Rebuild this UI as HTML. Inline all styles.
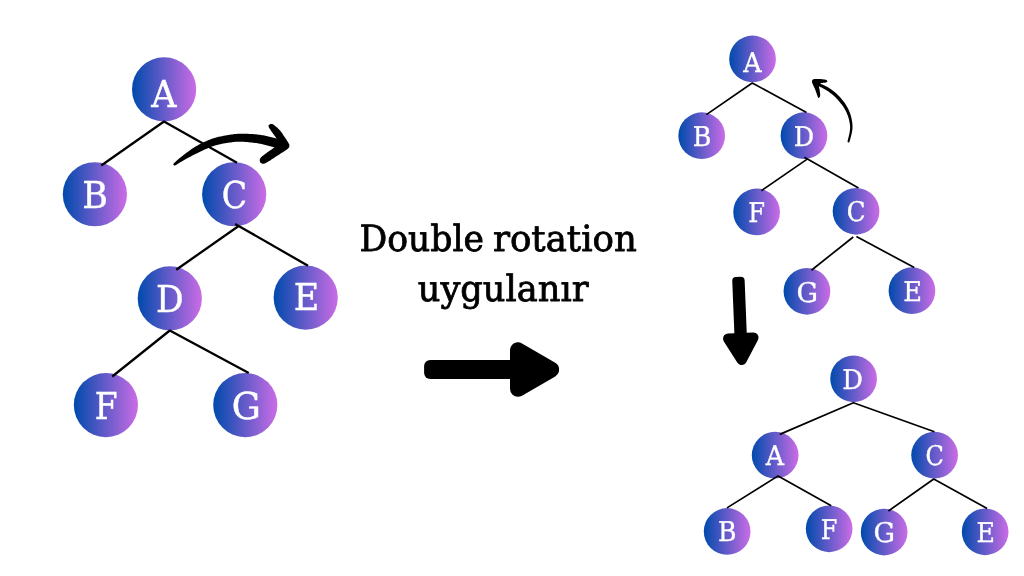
<!DOCTYPE html>
<html lang="tr">
<head>
<meta charset="utf-8">
<title>Double rotation uygulanır</title>
<style>
html,body{margin:0;padding:0;background:#fff;}
body{width:1024px;height:576px;overflow:hidden;position:relative;}
svg{position:absolute;left:0;top:0;display:block;will-change:transform;}
text{font-family:"DejaVu Serif", "Liberation Serif", serif;text-rendering:geometricPrecision;}
.n1{font-size:37.0px;fill:#fff;stroke:#fff;stroke-width:0.42px;}
.n2{font-size:27.1px;fill:#fff;stroke:#fff;stroke-width:0.32px;}
.cap{font-size:36.1px;fill:#000;stroke:#000;stroke-width:0.8px;stroke-linejoin:round;}
</style>
</head>
<body>
<svg width="1024" height="576" viewBox="0 0 1024 576">
<defs>
<linearGradient id="g" x1="0" y1="0" x2="1" y2="0">
<stop offset="0" stop-color="#004aad"/>
<stop offset="1" stop-color="#cb6ce6"/>
</linearGradient>
</defs>
<rect width="1024" height="576" fill="#fff"/>
<!-- left tree -->
<circle cx="164.1" cy="89.4" r="32.1" fill="url(#g)"/>
<circle cx="94.9" cy="194.25" r="32.1" fill="url(#g)"/>
<circle cx="234.2" cy="194.25" r="32.1" fill="url(#g)"/>
<circle cx="169.8" cy="298.4" r="32.1" fill="url(#g)"/>
<circle cx="305.7" cy="297.6" r="32.1" fill="url(#g)"/>
<circle cx="105.9" cy="405.05" r="32.1" fill="url(#g)"/>
<circle cx="245.3" cy="405.05" r="32.1" fill="url(#g)"/>
<polyline points="101.25,165.5 164.0,121.5 237.0,162.75" fill="none" stroke="#000" stroke-width="2.3" stroke-linejoin="bevel"/>
<polyline points="176.25,269.75 238.3,226.2" fill="none" stroke="#000" stroke-width="2.3" stroke-linejoin="bevel"/>
<polyline points="235.1,223.9 308.0,265.75" fill="none" stroke="#000" stroke-width="2.3" stroke-linejoin="bevel"/>
<polyline points="112.25,376.5 169.8,330.5 248.75,373.0" fill="none" stroke="#000" stroke-width="2.3" stroke-linejoin="bevel"/>
<text class="n1" transform="translate(151.30 106.84) scale(0.945 1)">A</text>
<text class="n1" transform="translate(82.27 207.69) scale(0.944 1)">B</text>
<text class="n1" transform="translate(221.83 207.64) scale(0.896 1)">C</text>
<text class="n1" transform="translate(156.04 312.19) scale(0.932 1)">D</text>
<text class="n1" transform="translate(293.67 310.04) scale(0.945 1)">E</text>
<text class="n1" transform="translate(94.77 418.94) scale(0.889 1)">F</text>
<text class="n1" transform="translate(231.66 418.64) scale(0.984 1)">G</text>
<!-- right trees -->
<circle cx="752.55" cy="58.95" r="23.35" fill="url(#g)"/>
<circle cx="701.7" cy="135.7" r="23.35" fill="url(#g)"/>
<circle cx="803.95" cy="135.7" r="23.35" fill="url(#g)"/>
<circle cx="756.6" cy="211.95" r="23.35" fill="url(#g)"/>
<circle cx="856.05" cy="211.3" r="23.35" fill="url(#g)"/>
<circle cx="806.95" cy="291.3" r="23.35" fill="url(#g)"/>
<circle cx="911.95" cy="290.7" r="23.35" fill="url(#g)"/>
<circle cx="853.6" cy="378.8" r="23.35" fill="url(#g)"/>
<circle cx="775.15" cy="455.15" r="23.35" fill="url(#g)"/>
<circle cx="934.6" cy="455.15" r="23.35" fill="url(#g)"/>
<circle cx="727.15" cy="531.45" r="23.35" fill="url(#g)"/>
<circle cx="829.15" cy="528.8" r="23.35" fill="url(#g)"/>
<circle cx="884.15" cy="532.05" r="23.35" fill="url(#g)"/>
<circle cx="985.15" cy="531.8" r="23.35" fill="url(#g)"/>
<polyline points="706.4,114.6 752.25,83.0 806.5,112.5" fill="none" stroke="#000" stroke-width="1.7" stroke-linejoin="bevel"/>
<polyline points="761.4,190.75 807.2,159.1" fill="none" stroke="#000" stroke-width="1.7" stroke-linejoin="bevel"/>
<polyline points="804.4,157.2 858.5,187.9" fill="none" stroke="#000" stroke-width="1.7" stroke-linejoin="bevel"/>
<polyline points="811.4,270.25 853.25,237.0" fill="none" stroke="#000" stroke-width="1.7" stroke-linejoin="bevel"/>
<polyline points="856.4,236.6 914.25,267.5" fill="none" stroke="#000" stroke-width="1.7" stroke-linejoin="bevel"/>
<polyline points="779.75,434.4 853.4,402.75 934.4,431.75" fill="none" stroke="#000" stroke-width="1.7" stroke-linejoin="bevel"/>
<polyline points="727.0,507.9 778.1,475.9 831.25,505.75" fill="none" stroke="#000" stroke-width="1.7" stroke-linejoin="bevel"/>
<polyline points="888.4,511.0 933.75,479.0 987.1,508.5" fill="none" stroke="#000" stroke-width="1.7" stroke-linejoin="bevel"/>
<text class="n2" transform="translate(743.20 71.74) scale(0.940 1)">A</text>
<text class="n2" transform="translate(692.65 145.89) scale(0.936 1)">B</text>
<text class="n2" transform="translate(793.64 145.59) scale(0.940 1)">D</text>
<text class="n2" transform="translate(748.31 222.24) scale(0.894 1)">F</text>
<text class="n2" transform="translate(846.67 220.79) scale(0.905 1)">C</text>
<text class="n2" transform="translate(796.55 301.59) scale(0.994 1)">G</text>
<text class="n2" transform="translate(903.23 300.99) scale(0.949 1)">E</text>
<text class="n2" transform="translate(842.13 388.69) scale(0.953 1)">D</text>
<text class="n2" transform="translate(765.70 465.24) scale(0.935 1)">A</text>
<text class="n2" transform="translate(925.39 464.79) scale(0.888 1)">C</text>
<text class="n2" transform="translate(718.01 541.49) scale(0.928 1)">B</text>
<text class="n2" transform="translate(820.72 538.99) scale(0.885 1)">F</text>
<text class="n2" transform="translate(873.55 541.79) scale(0.994 1)">G</text>
<text class="n2" transform="translate(976.50 541.99) scale(0.934 1)">E</text>
<!-- caption -->
<text class="cap" y="250.5"><tspan x="359.4" textLength="124.6" lengthAdjust="spacingAndGlyphs">Double</tspan> <tspan x="492.9" textLength="144" lengthAdjust="spacingAndGlyphs">rotation</tspan></text>
<text class="cap" x="503.2" y="300.5" text-anchor="middle" textLength="171" lengthAdjust="spacingAndGlyphs">uygulanır</text>
<!-- big arrow -->
<g fill="#000">
<rect x="424.1" y="360.1" width="96" height="19" rx="6" ry="6"/>
<polygon points="518,350.3 518,388.8 551.25,369.55" stroke="#000" stroke-width="16" stroke-linejoin="round"/>
</g>
<!-- small down arrow -->
<g fill="#000" transform="translate(740.1 321) rotate(87.7) scale(0.652) translate(-491.7 -369.55)">
<rect x="424.1" y="360.1" width="96" height="19" rx="6" ry="6"/>
<polygon points="518,350.3 518,388.8 551.25,369.55" stroke="#000" stroke-width="16" stroke-linejoin="round"/>
</g>
<!-- curved arrow left -->
<path d="M175.47,165.25 L176.05,164.90 L176.76,164.46 L177.59,163.95 L178.53,163.38 L179.54,162.76 L180.64,162.10 L181.79,161.42 L182.98,160.72 L184.21,160.02 L185.46,159.32 L186.78,158.60 L188.19,157.83 L189.68,157.02 L191.21,156.19 L192.79,155.35 L194.39,154.51 L195.99,153.69 L197.58,152.89 L199.14,152.14 L200.66,151.42 L202.17,150.73 L203.70,150.04 L205.23,149.36 L206.75,148.70 L208.28,148.06 L209.80,147.44 L211.31,146.86 L212.82,146.31 L214.32,145.80 L215.80,145.33 L217.28,144.92 L218.80,144.53 L220.36,144.18 L221.93,143.86 L223.50,143.56 L225.06,143.29 L226.59,143.04 L228.08,142.81 L229.52,142.60 L230.88,142.41 L232.13,142.23 L233.25,142.08 L234.27,141.96 L235.21,141.86 L236.12,141.78 L237.02,141.72 L237.94,141.69 L238.93,141.67 L240.01,141.68 L241.21,141.70 L242.53,141.75 L243.98,141.83 L245.51,141.95 L247.11,142.08 L248.75,142.23 L250.38,142.40 L251.98,142.58 L253.52,142.76 L254.96,142.94 L256.28,143.12 L257.47,143.29 L258.57,143.48 L259.60,143.66 L260.58,143.86 L261.53,144.06 L262.46,144.27 L263.39,144.48 L264.32,144.71 L265.28,144.94 L266.27,145.18 L267.25,145.42 L268.24,145.68 L269.24,145.94 L270.23,146.22 L271.21,146.49 L272.17,146.77 L273.09,147.04 L273.98,147.30 L274.81,147.54 L275.57,147.77 L276.26,147.97 L276.94,148.18 L277.61,148.39 L278.26,148.60 L278.89,148.81 L279.48,149.00 L280.04,149.19 L280.55,149.37 L281.02,149.54 L281.41,149.67 A4.00,4.00 0 0 0 284.59,142.33 L284.30,142.17 L283.94,141.96 L283.48,141.69 L282.94,141.37 L282.33,141.03 L281.65,140.67 L280.92,140.30 L280.13,139.93 L279.29,139.57 L278.43,139.23 L277.56,138.93 L276.64,138.63 L275.68,138.33 L274.68,138.04 L273.65,137.75 L272.60,137.46 L271.53,137.19 L270.46,136.92 L269.38,136.66 L268.33,136.42 L267.33,136.19 L266.34,135.97 L265.35,135.76 L264.34,135.55 L263.30,135.34 L262.22,135.15 L261.09,134.96 L259.90,134.79 L258.65,134.63 L257.32,134.48 L255.89,134.35 L254.36,134.22 L252.74,134.10 L251.07,134.00 L249.36,133.91 L247.65,133.83 L245.96,133.76 L244.32,133.72 L242.75,133.70 L241.29,133.70 L239.96,133.72 L238.75,133.76 L237.60,133.81 L236.51,133.89 L235.44,133.98 L234.37,134.10 L233.30,134.24 L232.18,134.40 L230.99,134.59 L229.72,134.79 L228.34,135.02 L226.88,135.26 L225.34,135.53 L223.73,135.81 L222.08,136.13 L220.40,136.47 L218.70,136.85 L216.98,137.28 L215.28,137.75 L213.60,138.27 L211.95,138.83 L210.32,139.42 L208.68,140.05 L207.05,140.72 L205.43,141.42 L203.83,142.15 L202.23,142.91 L200.65,143.71 L199.09,144.53 L197.54,145.38 L195.98,146.29 L194.40,147.27 L192.83,148.30 L191.27,149.35 L189.75,150.43 L188.26,151.50 L186.83,152.55 L185.46,153.58 L184.16,154.56 L182.94,155.48 L181.77,156.38 L180.62,157.30 L179.52,158.22 L178.47,159.11 L177.49,159.97 L176.59,160.77 L175.77,161.51 L175.05,162.16 L174.43,162.71 L173.93,163.15 A1.30,1.30 0 0 0 175.47,165.25 Z" fill="#000"/>
<path d="M268.83,125.03 L269.07,124.83 L269.36,124.60 L269.70,124.38 L270.08,124.18 L270.49,124.04 L270.92,123.99 L271.35,123.99 L271.79,124.03 L272.25,124.12 L272.77,124.30 L273.36,124.59 L274.04,125.03 L274.86,125.63 L275.78,126.38 L276.78,127.24 L277.81,128.19 L278.82,129.20 L279.78,130.24 L280.69,131.35 L281.61,132.58 L282.51,133.86 L283.39,135.14 L284.22,136.39 L284.99,137.54 L285.72,138.62 L286.43,139.68 L287.09,140.70 L287.70,141.65 L288.22,142.51 L288.64,143.27 L288.95,143.88 L289.17,144.37 L289.31,144.77 L289.38,145.12 L289.39,145.48 L289.37,145.88 L289.32,146.30 L289.24,146.71 L289.11,147.11 L288.90,147.54 L288.58,147.99 L288.12,148.48 L287.50,149.02 L286.75,149.58 L285.89,150.17 L284.94,150.80 L283.94,151.45 L282.90,152.13 L281.81,152.85 L280.63,153.62 L279.39,154.41 L278.12,155.22 L276.85,156.03 L275.61,156.82 L274.36,157.63 L273.06,158.48 L271.76,159.33 L270.51,160.14 L269.35,160.88 L268.31,161.51 L267.42,162.04 L266.65,162.49 L265.97,162.88 L265.34,163.19 L264.74,163.43 L264.14,163.59 L263.54,163.68 L262.95,163.69 L262.40,163.63 L261.88,163.50 L261.42,163.31 L261.02,163.07 L260.67,162.77 L260.37,162.38 L260.12,161.93 L259.93,161.45 L259.81,160.96 L259.76,160.47 L259.78,159.99 L259.85,159.50 L259.99,159.00 L260.21,158.48 L260.55,157.93 L261.02,157.34 L261.63,156.72 L262.38,156.07 L263.24,155.39 L264.19,154.68 L265.19,153.94 L266.23,153.17 L267.36,152.36 L268.62,151.49 L269.94,150.60 L271.25,149.70 L272.46,148.81 L273.52,147.96 L274.47,147.15 L275.36,146.38 L276.16,145.61 L276.84,144.85 L277.37,144.08 L277.69,143.27 L277.79,142.43 L277.67,141.57 L277.40,140.70 L277.02,139.81 L276.58,138.93 L276.13,138.06 L275.64,137.18 L275.05,136.30 L274.40,135.42 L273.74,134.54 L273.08,133.68 L272.48,132.85 L271.90,132.00 L271.32,131.15 L270.74,130.31 L270.21,129.51 L269.74,128.78 L269.35,128.16 L269.07,127.65 L268.86,127.23 L268.72,126.89 L268.63,126.59 L268.57,126.33 L268.52,126.07 L268.49,125.84 L268.47,125.65 L268.49,125.48 L268.56,125.34 L268.67,125.19 Z" fill="#000"/>
<!-- curved arrow right -->
<path d="M849.47,141.84 L849.62,141.28 L849.83,140.53 L850.08,139.64 L850.36,138.64 L850.66,137.57 L850.96,136.45 L851.25,135.33 L851.52,134.25 L851.75,133.22 L851.93,132.29 L852.08,131.47 L852.20,130.70 L852.30,129.97 L852.39,129.25 L852.45,128.55 L852.49,127.84 L852.52,127.12 L852.52,126.38 L852.49,125.61 L852.45,124.79 L852.38,123.93 L852.28,123.03 L852.17,122.10 L852.03,121.16 L851.87,120.20 L851.69,119.24 L851.49,118.27 L851.28,117.32 L851.04,116.38 L850.78,115.47 L850.51,114.57 L850.21,113.67 L849.89,112.78 L849.55,111.90 L849.19,111.04 L848.81,110.18 L848.43,109.34 L848.02,108.51 L847.61,107.70 L847.19,106.91 L846.76,106.14 L846.32,105.40 L845.86,104.67 L845.39,103.97 L844.92,103.28 L844.42,102.61 L843.92,101.94 L843.40,101.27 L842.86,100.59 L842.31,99.91 L841.73,99.22 L841.14,98.51 L840.52,97.80 L839.88,97.08 L839.23,96.36 L838.56,95.65 L837.87,94.95 L837.17,94.25 L836.45,93.58 L835.72,92.92 L834.98,92.29 L834.22,91.67 L833.44,91.06 L832.65,90.47 L831.85,89.89 L831.05,89.33 L830.24,88.79 L829.44,88.27 L828.65,87.77 L827.86,87.29 L827.06,86.83 L826.23,86.38 L825.41,85.96 L824.59,85.56 L823.78,85.17 L822.98,84.81 L822.22,84.47 L821.48,84.14 L820.79,83.84 L820.13,83.54 L819.49,83.25 L818.86,82.97 L818.24,82.71 L817.65,82.46 L817.09,82.23 L816.57,82.02 L816.10,81.83 L815.69,81.67 L815.35,81.53 L815.07,81.41 A1.50,1.50 0 0 0 813.93,84.19 L814.22,84.31 L814.59,84.45 L815.00,84.61 L815.47,84.79 L815.97,84.99 L816.51,85.21 L817.08,85.45 L817.66,85.70 L818.26,85.97 L818.87,86.26 L819.51,86.57 L820.20,86.90 L820.91,87.25 L821.65,87.62 L822.40,88.00 L823.16,88.40 L823.92,88.81 L824.67,89.23 L825.41,89.66 L826.14,90.11 L826.87,90.58 L827.62,91.07 L828.38,91.57 L829.13,92.10 L829.89,92.63 L830.64,93.18 L831.37,93.74 L832.10,94.31 L832.80,94.89 L833.48,95.48 L834.14,96.08 L834.80,96.70 L835.45,97.35 L836.09,98.01 L836.72,98.69 L837.34,99.37 L837.95,100.05 L838.55,100.74 L839.13,101.42 L839.69,102.09 L840.24,102.74 L840.77,103.38 L841.27,104.00 L841.76,104.62 L842.23,105.24 L842.69,105.86 L843.14,106.49 L843.57,107.13 L843.99,107.80 L844.41,108.49 L844.82,109.21 L845.23,109.95 L845.62,110.71 L846.01,111.49 L846.39,112.28 L846.75,113.08 L847.09,113.88 L847.42,114.70 L847.73,115.51 L848.02,116.33 L848.29,117.17 L848.55,118.04 L848.79,118.92 L849.02,119.82 L849.23,120.72 L849.42,121.62 L849.59,122.51 L849.74,123.37 L849.86,124.21 L849.95,125.01 L850.02,125.76 L850.07,126.46 L850.09,127.12 L850.09,127.76 L850.06,128.39 L850.02,129.03 L849.96,129.69 L849.88,130.38 L849.78,131.12 L849.67,131.91 L849.52,132.78 L849.33,133.76 L849.10,134.83 L848.85,135.93 L848.59,137.03 L848.33,138.11 L848.08,139.11 L847.86,140.01 L847.67,140.77 L847.53,141.36 A1.00,1.00 0 0 0 849.47,141.84 Z" fill="#000"/>
<path d="M812.02,82.03 L811.97,81.31 L812.05,80.74 L812.25,80.28 L812.56,79.91 L812.97,79.60 L813.48,79.33 L814.11,79.12 L814.87,78.98 L815.74,78.91 L816.67,78.88 L817.63,78.88 L818.58,78.90 L819.60,78.94 L820.72,79.03 L821.87,79.14 L822.98,79.28 L823.97,79.42 L824.78,79.55 L825.39,79.68 L825.86,79.81 L826.21,79.95 L826.48,80.10 L826.70,80.26 L826.90,80.43 L827.07,80.62 L827.20,80.82 L827.28,81.04 L827.30,81.26 L827.27,81.47 L827.19,81.67 L827.06,81.85 L826.89,82.02 L826.66,82.18 L826.37,82.33 L825.99,82.48 L825.51,82.61 L824.86,82.72 L824.05,82.79 L823.15,82.85 L822.25,82.93 L821.43,83.06 L820.77,83.27 L820.27,83.54 L819.85,83.86 L819.52,84.22 L819.26,84.64 L819.07,85.12 L818.95,85.68 L818.92,86.33 L819.01,87.07 L819.17,87.88 L819.36,88.72 L819.54,89.58 L819.68,90.42 L819.80,91.28 L819.93,92.19 L820.06,93.12 L820.16,94.01 L820.21,94.83 L820.19,95.52 L820.08,96.11 L819.90,96.62 L819.67,97.06 L819.42,97.42 L819.17,97.68 L818.95,97.85 L818.78,97.98 L818.64,98.07 L818.51,98.06 L818.35,97.92 L818.14,97.58 L817.85,96.98 L817.47,96.04 L817.02,94.79 L816.51,93.35 L815.98,91.82 L815.44,90.31 L814.94,88.96 L814.40,87.69 L813.80,86.41 L813.21,85.16 L812.67,83.99 L812.25,82.93 Z" fill="#000"/>
</svg>
</body>
</html>
